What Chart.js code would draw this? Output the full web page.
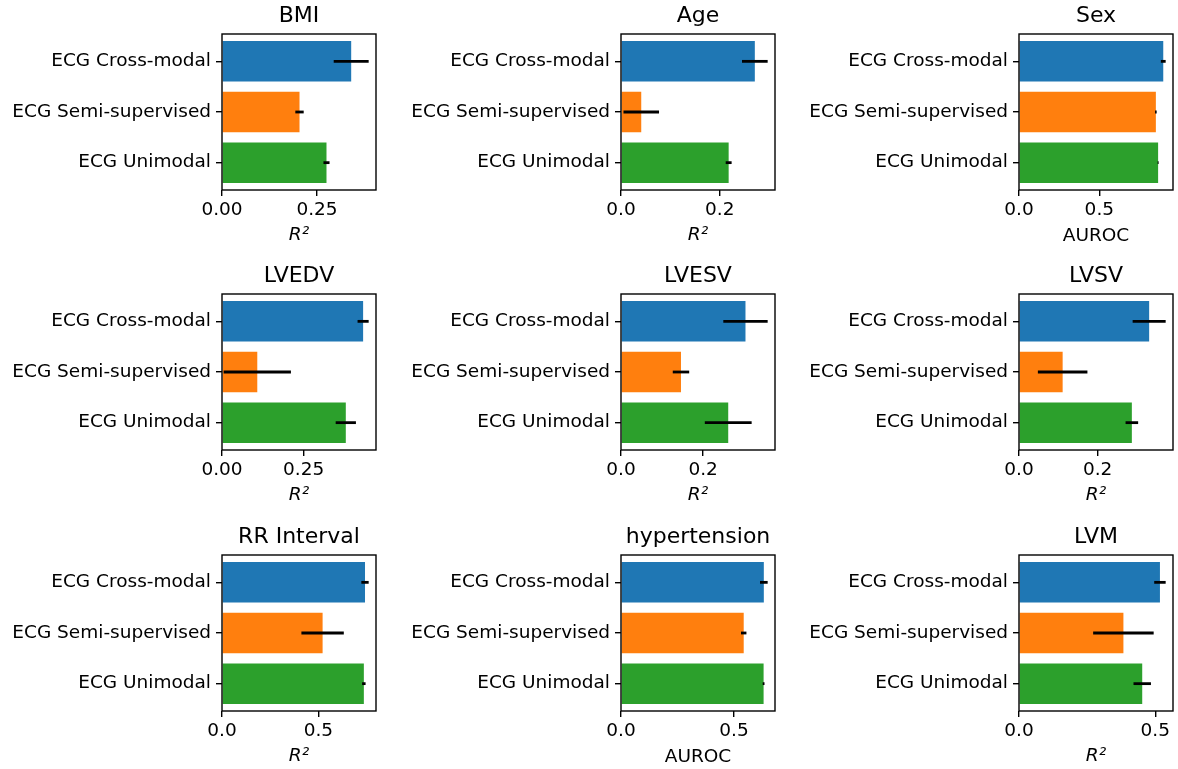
<!DOCTYPE html>
<html>
<head>
<meta charset="utf-8">
<script src="https://cdn.jsdelivr.net/npm/chart.js@4.4.0/dist/chart.umd.min.js"></script>
<style>
    html, body { margin: 0; padding: 0; background: #fff; overflow: hidden; }
    #figure { position: relative; width: 1178px; height: 769px; overflow: hidden; }
    #figure canvas { position: absolute; }
</style>
</head>
<body>
<div id="figure"></div>
<script>
const categories = ['ECG Cross-modal', 'ECG Semi-supervised', 'ECG Unimodal'];
const barColors = ['#1f77b4', '#ff7f0e', '#2ca02c'];

// values and half-widths of the error bars
const bmiValues = [0.340, 0.204, 0.275];
const bmiErrors = [0.046, 0.011, 0.008];
const bmiTicks = ['0.00', '0.25'];

const ageValues = [0.271, 0.041, 0.218];
const ageErrors = [0.026, 0.036, 0.006];
const ageTicks = ['0.0', '0.2'];

const sexValues = [0.898, 0.852, 0.866];
const sexErrors = [0.015, 0.005, 0.003];
const sexTicks = ['0.0', '0.5'];

const lvedvValues = [0.432, 0.108, 0.379];
const lvedvErrors = [0.017, 0.103, 0.031];
const lvedvTicks = ['0.00', '0.25'];

const lvesvValues = [0.303, 0.146, 0.261];
const lvesvErrors = [0.054, 0.020, 0.057];
const lvesvTicks = ['0.0', '0.2'];

const lvsvValues = [0.331, 0.111, 0.287];
const lvsvErrors = [0.042, 0.063, 0.016];
const lvsvTicks = ['0.0', '0.2'];

const rrValues = [0.742, 0.522, 0.736];
const rrErrors = [0.019, 0.110, 0.009];
const rrTicks = ['0.0', '0.5'];

const hypertensionValues = [0.632, 0.543, 0.631];
const hypertensionErrors = [0.017, 0.012, 0.004];
const hypertensionTicks = ['0.0', '0.5'];

const lvmValues = [0.517, 0.383, 0.452];
const lvmErrors = [0.021, 0.111, 0.032];
const lvmTicks = ['0.0', '0.5'];

const panels = [
    { title: 'BMI', values: bmiValues, errors: bmiErrors, ticks: bmiTicks, xLabel: 'R²' },
    { title: 'Age', values: ageValues, errors: ageErrors, ticks: ageTicks, xLabel: 'R²' },
    { title: 'Sex', values: sexValues, errors: sexErrors, ticks: sexTicks, xLabel: 'AUROC' },
    { title: 'LVEDV', values: lvedvValues, errors: lvedvErrors, ticks: lvedvTicks, xLabel: 'R²' },
    { title: 'LVESV', values: lvesvValues, errors: lvesvErrors, ticks: lvesvTicks, xLabel: 'R²' },
    { title: 'LVSV', values: lvsvValues, errors: lvsvErrors, ticks: lvsvTicks, xLabel: 'R²' },
    { title: 'RR Interval', values: rrValues, errors: rrErrors, ticks: rrTicks, xLabel: 'R²' },
    { title: 'hypertension', values: hypertensionValues, errors: hypertensionErrors, ticks: hypertensionTicks, xLabel: 'AUROC' },
    { title: 'LVM', values: lvmValues, errors: lvmErrors, ticks: lvmTicks, xLabel: 'R²' }
];

const FONT = 'DejaVu Sans';
const canvasLefts = [0, 399, 797];
const canvasTops = [1, 261, 522];
const CANVAS_W = 380;
const CANVAS_H = 250;

// horizontal error bars, no caps
const errorBars = {
    id: 'errorBars',
    afterDatasetsDraw(chart) {
        const ds = chart.data.datasets[0];
        const meta = chart.getDatasetMeta(0);
        const xScale = chart.scales.x;
        const ctx = chart.ctx;
        ctx.save();
        ctx.strokeStyle = '#000';
        ctx.lineWidth = 2.8;
        meta.data.forEach((bar, i) => {
            const v = ds.data[i].x;
            const e = ds.errors[i];
            ctx.beginPath();
            ctx.moveTo(xScale.getPixelForValue(v - e), bar.y);
            ctx.lineTo(xScale.getPixelForValue(v + e), bar.y);
            ctx.stroke();
        });
        ctx.restore();
    }
};

// box around the plot area like matplotlib spines
const frame = {
    id: 'frame',
    afterDraw(chart) {
        const { ctx, chartArea: a } = chart;
        ctx.save();
        ctx.strokeStyle = '#000';
        ctx.lineWidth = 1.4;
        ctx.strokeRect(a.left, a.top, a.right - a.left, a.bottom - a.top);
        ctx.restore();
    }
};

const figure = document.getElementById('figure');

panels.forEach((p, idx) => {
    const canvas = document.createElement('canvas');
    canvas.width = CANVAS_W;
    canvas.height = CANVAS_H;
    canvas.style.left = canvasLefts[idx % 3] + 'px';
    canvas.style.top = canvasTops[Math.floor(idx / 3)] + 'px';
    figure.appendChild(canvas);

    const xMax = Math.max(...p.values.map((v, i) => v + p.errors[i])) * 1.05;
    const isAuroc = p.xLabel === 'AUROC';

    new Chart(canvas.getContext('2d'), {
        type: 'bar',
        data: {
            datasets: [{
                data: p.values.map((v, i) => ({ x: v, y: i })),
                errors: p.errors,
                backgroundColor: barColors,
                borderWidth: 0,
                barPercentage: 0.8,
                categoryPercentage: 1.0
            }]
        },
        options: {
            responsive: false,
            animation: false,
            indexAxis: 'y',
            layout: { padding: { left: 0, right: 4, top: 0, bottom: 0 } },
            plugins: {
                legend: { display: false },
                tooltip: { enabled: false },
                title: {
                    display: true,
                    text: p.title,
                    fullSize: false,
                    color: '#000',
                    font: { family: FONT, size: 22, weight: 'normal', lineHeight: 1.2 },
                    padding: { top: 2, bottom: 4.6 }
                }
            },
            scales: {
                x: {
                    type: 'linear',
                    min: 0,
                    max: xMax,
                    afterBuildTicks: scale => {
                        scale.ticks = p.ticks.map(t => ({ value: parseFloat(t) }));
                    },
                    afterFit: scale => { scale.height = 61; },
                    grid: { display: true, drawOnChartArea: false, drawTicks: true, tickLength: 6, color: '#000', lineWidth: 1.4 },
                    border: { display: false },
                    ticks: {
                        color: '#000',
                        font: { family: FONT, size: 18.5 },
                        padding: 3.4,
                        maxRotation: 0,
                        autoSkip: false,
                        callback: (value, i) => p.ticks[i]
                    },
                    title: {
                        display: true,
                        text: p.xLabel,
                        color: '#000',
                        font: { family: FONT, size: 18.5, style: isAuroc ? 'normal' : 'italic' },
                        padding: { top: 0, bottom: isAuroc ? 4 : 5.2 }
                    }
                },
                y: {
                    type: 'linear',
                    reverse: true,
                    offset: false,
                    min: -0.54,
                    max: 2.54,
                    afterBuildTicks: scale => {
                        scale.ticks = categories.map((c, i) => ({ value: i }));
                    },
                    afterFit: scale => { scale.width = 222; },
                    grid: { display: true, offset: false, drawOnChartArea: false, drawTicks: true, tickLength: 6, color: '#000', lineWidth: 1.4 },
                    border: { display: false },
                    ticks: {
                        color: '#000',
                        font: { family: FONT, size: 18.5 },
                        padding: 5,
                        autoSkip: false,
                        callback: (value, i) => categories[i]
                    }
                }
            }
        },
        plugins: [errorBars, frame]
    });
});
</script>
</body>
</html>
